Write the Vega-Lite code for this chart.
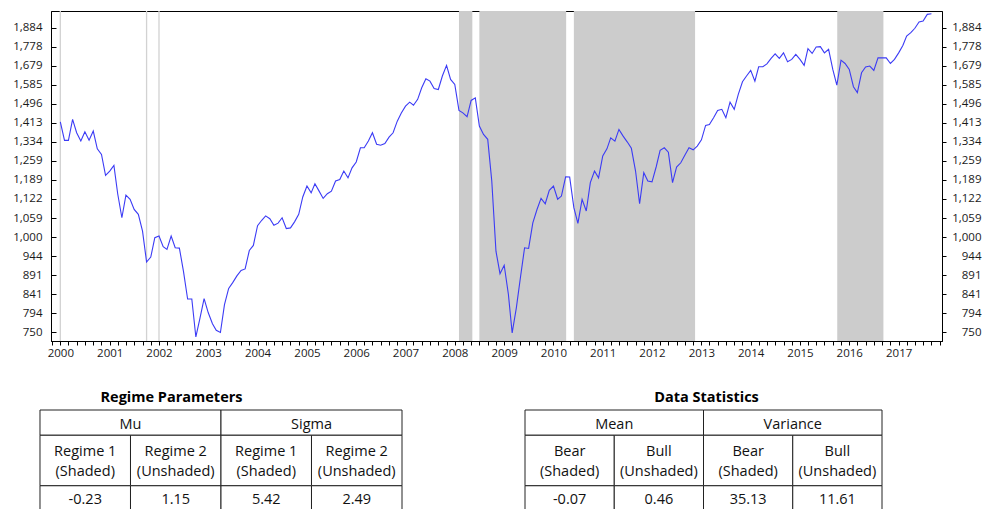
{
  "$schema": "https://vega.github.io/schema/vega-lite/v6.json",
  "background": "white",
  "padding": {"left": 12, "top": 9, "right": 0, "bottom": 0},
  "bounds": "flush",
  "spacing": 69,
  "config": {
    "font": "Open Sans",
    "view": {"stroke": null},
    "axis": {"labelFont": "Open Sans", "labelFontSize": 11.5, "labelColor": "#1a1a1a", "domainColor": "#000", "tickColor": "#000", "grid": false}
  },
  "datasets": {
    "series": [
      {"date":"2000-01-01","value":1417},{"date":"2000-02-01","value":1340},{"date":"2000-03-01","value":1340},{"date":"2000-04-01","value":1428},{"date":"2000-05-01","value":1371},{"date":"2000-06-01","value":1337},{"date":"2000-07-01","value":1375},{"date":"2000-08-01","value":1340},{"date":"2000-09-01","value":1378},{"date":"2000-10-01","value":1306},{"date":"2000-11-01","value":1284},{"date":"2000-12-01","value":1205},
      {"date":"2001-01-01","value":1221},{"date":"2001-02-01","value":1242},{"date":"2001-03-01","value":1140},{"date":"2001-04-01","value":1060},{"date":"2001-05-01","value":1135},{"date":"2001-06-01","value":1121},{"date":"2001-07-01","value":1087},{"date":"2001-08-01","value":1071},{"date":"2001-09-01","value":1018},{"date":"2001-10-01","value":927},{"date":"2001-11-01","value":941},{"date":"2001-12-01","value":998},
      {"date":"2002-01-01","value":1003},{"date":"2002-02-01","value":971},{"date":"2002-03-01","value":963},{"date":"2002-04-01","value":1003},{"date":"2002-05-01","value":968},{"date":"2002-06-01","value":967},{"date":"2002-07-01","value":902},{"date":"2002-08-01","value":829},{"date":"2002-09-01","value":829},{"date":"2002-10-01","value":739},{"date":"2002-11-01","value":783},{"date":"2002-12-01","value":830},
      {"date":"2003-01-01","value":795},{"date":"2003-02-01","value":769},{"date":"2003-03-01","value":754},{"date":"2003-04-01","value":749},{"date":"2003-05-01","value":815},{"date":"2003-06-01","value":856},{"date":"2003-07-01","value":871},{"date":"2003-08-01","value":889},{"date":"2003-09-01","value":904},{"date":"2003-10-01","value":908},{"date":"2003-11-01","value":960},{"date":"2003-12-01","value":975},
      {"date":"2004-01-01","value":1035},{"date":"2004-02-01","value":1052},{"date":"2004-03-01","value":1066},{"date":"2004-04-01","value":1057},{"date":"2004-05-01","value":1036},{"date":"2004-06-01","value":1043},{"date":"2004-07-01","value":1060},{"date":"2004-08-01","value":1026},{"date":"2004-09-01","value":1028},{"date":"2004-10-01","value":1047},{"date":"2004-11-01","value":1071},{"date":"2004-12-01","value":1129},
      {"date":"2005-01-01","value":1167},{"date":"2005-02-01","value":1143},{"date":"2005-03-01","value":1175},{"date":"2005-04-01","value":1149},{"date":"2005-05-01","value":1124},{"date":"2005-06-01","value":1140},{"date":"2005-07-01","value":1149},{"date":"2005-08-01","value":1185},{"date":"2005-09-01","value":1190},{"date":"2005-10-01","value":1221},{"date":"2005-11-01","value":1196},{"date":"2005-12-01","value":1233},
      {"date":"2006-01-01","value":1255},{"date":"2006-02-01","value":1310},{"date":"2006-03-01","value":1310},{"date":"2006-04-01","value":1337},{"date":"2006-05-01","value":1371},{"date":"2006-06-01","value":1324},{"date":"2006-07-01","value":1320},{"date":"2006-08-01","value":1327},{"date":"2006-09-01","value":1353},{"date":"2006-10-01","value":1371},{"date":"2006-11-01","value":1420},{"date":"2006-12-01","value":1456},
      {"date":"2007-01-01","value":1486},{"date":"2007-02-01","value":1504},{"date":"2007-03-01","value":1490},{"date":"2007-04-01","value":1517},{"date":"2007-05-01","value":1571},{"date":"2007-06-01","value":1614},{"date":"2007-07-01","value":1603},{"date":"2007-08-01","value":1568},{"date":"2007-09-01","value":1563},{"date":"2007-10-01","value":1628},{"date":"2007-11-01","value":1681},{"date":"2007-12-01","value":1611},
      {"date":"2008-01-01","value":1587},{"date":"2008-02-01","value":1467},{"date":"2008-03-01","value":1456},{"date":"2008-04-01","value":1439},{"date":"2008-05-01","value":1512},{"date":"2008-06-01","value":1524},{"date":"2008-07-01","value":1399},{"date":"2008-08-01","value":1364},{"date":"2008-09-01","value":1344},{"date":"2008-10-01","value":1185},{"date":"2008-11-01","value":958},{"date":"2008-12-01","value":895},
      {"date":"2009-01-01","value":918},{"date":"2009-02-01","value":841},{"date":"2009-03-01","value":748},{"date":"2009-04-01","value":807},{"date":"2009-05-01","value":884},{"date":"2009-06-01","value":968},{"date":"2009-07-01","value":966},{"date":"2009-08-01","value":1044},{"date":"2009-09-01","value":1087},{"date":"2009-10-01","value":1124},{"date":"2009-11-01","value":1106},{"date":"2009-12-01","value":1152},
      {"date":"2010-01-01","value":1167},{"date":"2010-02-01","value":1121},{"date":"2010-03-01","value":1132},{"date":"2010-04-01","value":1200},{"date":"2010-05-01","value":1199},{"date":"2010-06-01","value":1093},{"date":"2010-07-01","value":1042},{"date":"2010-08-01","value":1121},{"date":"2010-09-01","value":1082},{"date":"2010-10-01","value":1179},{"date":"2010-11-01","value":1221},{"date":"2010-12-01","value":1196},
      {"date":"2011-01-01","value":1278},{"date":"2011-02-01","value":1306},{"date":"2011-03-01","value":1350},{"date":"2011-04-01","value":1337},{"date":"2011-05-01","value":1385},{"date":"2011-06-01","value":1357},{"date":"2011-07-01","value":1334},{"date":"2011-08-01","value":1308},{"date":"2011-09-01","value":1221},{"date":"2011-10-01","value":1106},{"date":"2011-11-01","value":1215},{"date":"2011-12-01","value":1185},
      {"date":"2012-01-01","value":1182},{"date":"2012-02-01","value":1237},{"date":"2012-03-01","value":1300},{"date":"2012-04-01","value":1310},{"date":"2012-05-01","value":1293},{"date":"2012-06-01","value":1179},{"date":"2012-07-01","value":1236},{"date":"2012-08-01","value":1252},{"date":"2012-09-01","value":1282},{"date":"2012-10-01","value":1310},{"date":"2012-11-01","value":1302},{"date":"2012-12-01","value":1317},
      {"date":"2013-01-01","value":1342},{"date":"2013-02-01","value":1402},{"date":"2013-03-01","value":1406},{"date":"2013-04-01","value":1435},{"date":"2013-05-01","value":1467},{"date":"2013-06-01","value":1472},{"date":"2013-07-01","value":1435},{"date":"2013-08-01","value":1504},{"date":"2013-09-01","value":1472},{"date":"2013-10-01","value":1540},{"date":"2013-11-01","value":1600},{"date":"2013-12-01","value":1628},
      {"date":"2014-01-01","value":1656},{"date":"2014-02-01","value":1603},{"date":"2014-03-01","value":1674},{"date":"2014-04-01","value":1674},{"date":"2014-05-01","value":1689},{"date":"2014-06-01","value":1717},{"date":"2014-07-01","value":1741},{"date":"2014-08-01","value":1717},{"date":"2014-09-01","value":1746},{"date":"2014-10-01","value":1700},{"date":"2014-11-01","value":1712},{"date":"2014-12-01","value":1738},
      {"date":"2015-01-01","value":1712},{"date":"2015-02-01","value":1681},{"date":"2015-03-01","value":1768},{"date":"2015-04-01","value":1743},{"date":"2015-05-01","value":1777},{"date":"2015-06-01","value":1779},{"date":"2015-07-01","value":1746},{"date":"2015-08-01","value":1765},{"date":"2015-09-01","value":1661},{"date":"2015-10-01","value":1584},{"date":"2015-11-01","value":1708},{"date":"2015-12-01","value":1691},
      {"date":"2016-01-01","value":1661},{"date":"2016-02-01","value":1576},{"date":"2016-03-01","value":1548},{"date":"2016-04-01","value":1644},{"date":"2016-05-01","value":1673},{"date":"2016-06-01","value":1678},{"date":"2016-07-01","value":1656},{"date":"2016-08-01","value":1720},{"date":"2016-09-01","value":1720},{"date":"2016-10-01","value":1720},{"date":"2016-11-01","value":1691},{"date":"2016-12-01","value":1712},
      {"date":"2017-01-01","value":1746},{"date":"2017-02-01","value":1786},{"date":"2017-03-01","value":1837},{"date":"2017-04-01","value":1856},{"date":"2017-05-01","value":1881},{"date":"2017-06-01","value":1917},{"date":"2017-07-01","value":1923},{"date":"2017-08-01","value":1962},{"date":"2017-09-01","value":1966}
    ],
    "regimes": [
      {"start":"2008-02-01","end":"2008-05-10"},
      {"start":"2008-07-01","end":"2010-04-05"},
      {"start":"2010-06-01","end":"2012-11-15"},
      {"start":"2015-10-04","end":"2016-09-10"}
    ],
    "single": [
      {"date":"2000-01-01"},{"date":"2001-10-01"},{"date":"2002-01-01"}
    ],
    "table1": [
      {"label":"Mu","col":0,"colEnd":2,"row":0,"rowEnd":1},
      {"label":"Sigma","col":2,"colEnd":4,"row":0,"rowEnd":1},
      {"label":"Regime 1\n(Shaded)","col":0,"colEnd":1,"row":1,"rowEnd":3},
      {"label":"Regime 2\n(Unshaded)","col":1,"colEnd":2,"row":1,"rowEnd":3},
      {"label":"Regime 1\n(Shaded)","col":2,"colEnd":3,"row":1,"rowEnd":3},
      {"label":"Regime 2\n(Unshaded)","col":3,"colEnd":4,"row":1,"rowEnd":3},
      {"label":"-0.23","col":0,"colEnd":1,"row":3,"rowEnd":4},
      {"label":"1.15","col":1,"colEnd":2,"row":3,"rowEnd":4},
      {"label":"5.42","col":2,"colEnd":3,"row":3,"rowEnd":4},
      {"label":"2.49","col":3,"colEnd":4,"row":3,"rowEnd":4}
    ],
    "table2": [
      {"label":"Mean","col":0,"colEnd":2,"row":0,"rowEnd":1},
      {"label":"Variance","col":2,"colEnd":4,"row":0,"rowEnd":1},
      {"label":"Bear\n(Shaded)","col":0,"colEnd":1,"row":1,"rowEnd":3},
      {"label":"Bull\n(Unshaded)","col":1,"colEnd":2,"row":1,"rowEnd":3},
      {"label":"Bear\n(Shaded)","col":2,"colEnd":3,"row":1,"rowEnd":3},
      {"label":"Bull\n(Unshaded)","col":3,"colEnd":4,"row":1,"rowEnd":3},
      {"label":"-0.07","col":0,"colEnd":1,"row":3,"rowEnd":4},
      {"label":"0.46","col":1,"colEnd":2,"row":3,"rowEnd":4},
      {"label":"35.13","col":2,"colEnd":3,"row":3,"rowEnd":4},
      {"label":"11.61","col":3,"colEnd":4,"row":3,"rowEnd":4}
    ]
  },
  "vconcat": [
    {
      "width": 891,
      "height": 330,
      "view": {"stroke": "#000", "strokeWidth": 1},
      "layer": [
        {
          "data": {"name": "regimes"},
          "mark": {"type": "rect", "color": "#cccccc"},
          "encoding": {
            "x": {"field": "start", "type": "temporal", "title": null,
                  "scale": {"type": "utc", "nice": false, "domain": [{"year": 1999, "month": 10, "date": 24, "utc": true}, {"year": 2017, "month": 11, "date": 18, "utc": true}]}},
            "x2": {"field": "end"}
          }
        },
        {
          "data": {"name": "single"},
          "mark": {"type": "rule", "color": "#d2d2d2", "strokeWidth": 1.3},
          "encoding": {
            "x": {"field": "date", "type": "temporal", "title": null,
                  "scale": {"type": "utc", "nice": false, "domain": [{"year": 1999, "month": 10, "date": 24, "utc": true}, {"year": 2017, "month": 11, "date": 18, "utc": true}]}}
          }
        },
        {
          "data": {"name": "series"},
          "mark": {"type": "line", "color": "#3b3bf5", "strokeWidth": 1.1},
          "encoding": {
            "x": {"field": "date", "type": "temporal", "title": null,
                  "scale": {"type": "utc", "nice": false, "domain": [{"year": 1999, "month": 10, "date": 24, "utc": true}, {"year": 2017, "month": 11, "date": 18, "utc": true}]},
                  "axis": {"orient": "bottom", "tickCount": {"interval": "month", "step": 2}, "labelExpr": "utcmonth(datum.value) == 0 ? utcFormat(datum.value, '%Y') : ''", "tickSize": 4, "labelPadding": 2, "labelOverlap": false, "labelFlush": false, "title": null}},
            "y": {"field": "value", "type": "quantitative", "title": null,
                  "scale": {"type": "log", "domain": [730, 1982], "nice": false},
                  "axis": {"orient": "left", "values": [750, 794, 841, 891, 944, 1000, 1059, 1122, 1189, 1259, 1334, 1413, 1496, 1585, 1679, 1778, 1884], "format": ",", "tickSize": -5, "labelPadding": 14, "title": null}}
          }
        },
        {
          "data": {"name": "series"},
          "mark": {"type": "line", "opacity": 0},
          "encoding": {
            "x": {"field": "date", "type": "temporal", "title": null,
                  "scale": {"type": "utc", "nice": false, "domain": [{"year": 1999, "month": 10, "date": 24, "utc": true}, {"year": 2017, "month": 11, "date": 18, "utc": true}]}},
            "y": {"field": "value", "type": "quantitative", "title": null,
                  "scale": {"type": "log", "domain": [730, 1982], "nice": false},
                  "axis": {"orient": "right", "values": [750, 794, 841, 891, 944, 1000, 1059, 1122, 1189, 1259, 1334, 1413, 1496, 1585, 1679, 1778, 1884], "format": ",", "tickSize": 4, "labelPadding": 35, "labelAlign": "right", "title": null}}
          }
        }
      ],
      "resolve": {"axis": {"y": "independent"}}
    },
    {
      "bounds": "flush",
      "spacing": 123,
      "hconcat": [
        {
          "width": 351,
          "height": 101,
          "title": {"text": "Regime Parameters", "fontSize": 14.5, "fontWeight": "bold", "color": "#000", "anchor": "middle", "frame": "group", "offset": 4, "dx": -55},
          "data": {"name": "table1"},
          "transform": [
            {"calculate": "(datum.col + datum.colEnd) / 2", "as": "cx"},
            {"calculate": "(datum.row + datum.rowEnd) / 2", "as": "cy"}
          ],
          "layer": [
            {
              "mark": {"type": "rect", "fill": "white", "stroke": "#222", "strokeWidth": 1},
              "encoding": {
                "x": {"field": "col", "type": "quantitative", "axis": null, "scale": {"domain": [0.1216, 4], "nice": false, "zero": false}},
                "x2": {"field": "colEnd"},
                "y": {"field": "row", "type": "quantitative", "axis": null, "scale": {"domain": [0, 4], "reverse": true, "nice": false, "zero": false}},
                "y2": {"field": "rowEnd"}
              }
            },
            {
              "transform": [{"filter": "datum.row != 1"}],
              "mark": {"type": "text", "fontSize": 14.5, "color": "#111", "baseline": "middle", "align": "center", "dy": 2},
              "encoding": {
                "x": {"field": "cx", "type": "quantitative", "axis": null},
                "y": {"field": "cy", "type": "quantitative", "axis": null},
                "text": {"field": "label"}
              }
            },
            {
              "transform": [{"filter": "datum.row == 1"}],
              "mark": {"type": "text", "fontSize": 14.5, "lineBreak": "\n", "lineHeight": 20.5, "color": "#111", "baseline": "middle", "align": "center", "dy": -9},
              "encoding": {
                "x": {"field": "cx", "type": "quantitative", "axis": null},
                "y": {"field": "cy", "type": "quantitative", "axis": null},
                "text": {"field": "label"}
              }
            }
          ]
        },
        {
          "width": 357,
          "height": 101,
          "title": {"text": "Data Statistics", "fontSize": 14.5, "fontWeight": "bold", "color": "#000", "anchor": "middle", "frame": "group", "offset": 4, "dx": 3},
          "data": {"name": "table2"},
          "transform": [
            {"calculate": "(datum.col + datum.colEnd) / 2", "as": "cx"},
            {"calculate": "(datum.row + datum.rowEnd) / 2", "as": "cy"}
          ],
          "layer": [
            {
              "mark": {"type": "rect", "fill": "white", "stroke": "#222", "strokeWidth": 1},
              "encoding": {
                "x": {"field": "col", "type": "quantitative", "axis": null, "scale": {"domain": [0, 4], "nice": false, "zero": false}},
                "x2": {"field": "colEnd"},
                "y": {"field": "row", "type": "quantitative", "axis": null, "scale": {"domain": [0, 4], "reverse": true, "nice": false, "zero": false}},
                "y2": {"field": "rowEnd"}
              }
            },
            {
              "transform": [{"filter": "datum.row != 1"}],
              "mark": {"type": "text", "fontSize": 14.5, "color": "#111", "baseline": "middle", "align": "center", "dy": 2},
              "encoding": {
                "x": {"field": "cx", "type": "quantitative", "axis": null},
                "y": {"field": "cy", "type": "quantitative", "axis": null},
                "text": {"field": "label"}
              }
            },
            {
              "transform": [{"filter": "datum.row == 1"}],
              "mark": {"type": "text", "fontSize": 14.5, "lineBreak": "\n", "lineHeight": 20.5, "color": "#111", "baseline": "middle", "align": "center", "dy": -9},
              "encoding": {
                "x": {"field": "cx", "type": "quantitative", "axis": null},
                "y": {"field": "cy", "type": "quantitative", "axis": null},
                "text": {"field": "label"}
              }
            }
          ]
        }
      ]
    }
  ]
}
